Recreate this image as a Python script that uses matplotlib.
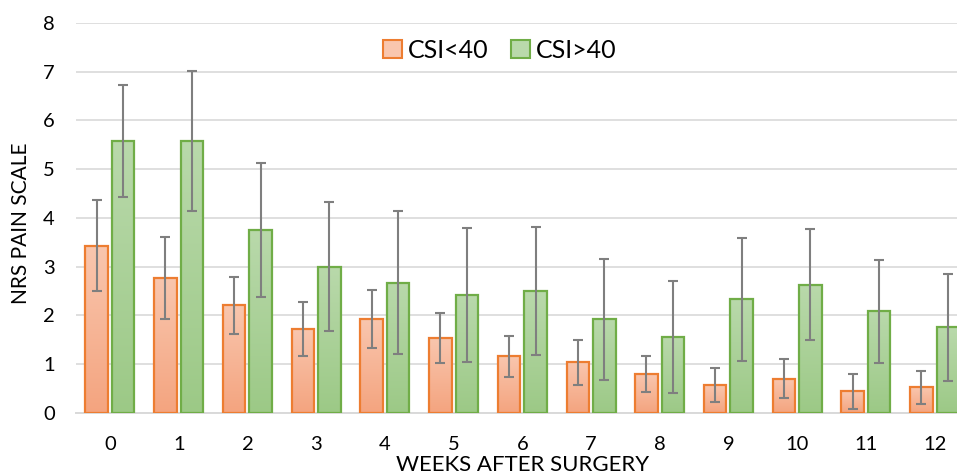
import matplotlib

matplotlib.use("Agg")
import matplotlib.pyplot as plt
import numpy as np
from matplotlib.colors import LinearSegmentedColormap
from matplotlib.patches import Patch

WEEKS = ["0", "1", "2", "3", "4", "5", "6", "7", "8", "9", "10", "11", "12"]
LOW_MEAN = [3.43, 2.76, 2.20, 1.72, 1.92, 1.53, 1.16, 1.03, 0.79, 0.56, 0.70, 0.44, 0.52]
LOW_SD = [0.93, 0.84, 0.58, 0.55, 0.60, 0.52, 0.42, 0.47, 0.37, 0.35, 0.40, 0.36, 0.34]
HIGH_MEAN = [5.58, 5.58, 3.75, 3.00, 2.67, 2.41, 2.50, 1.92, 1.55, 2.33, 2.63, 2.08, 1.75]
HIGH_SD = [1.15, 1.44, 1.37, 1.32, 1.46, 1.38, 1.31, 1.24, 1.15, 1.26, 1.14, 1.06, 1.10]
SERIES_LABELS = ["CSI<40", "CSI>40"]

ORANGE_EDGE = "#ED7D31"
ORANGE_TOP = "#F9C6AE"
ORANGE_BOTTOM = "#F4A47F"
GREEN_EDGE = "#70AD47"
GREEN_TOP = "#B9D9AB"
GREEN_BOTTOM = "#9CC986"
ERR_COLOR = "#7F7F7F"
GRID_COLOR = "#D9D9D9"
TEXT_COLOR = "#000000"

plt.rcParams["font.family"] = ["Lato", "DejaVu Sans"]


def gradient_bars(ax, bars, top, bottom):
    cmap = LinearSegmentedColormap.from_list("g", [bottom, top])
    grad = np.linspace(0, 1, 256).reshape(-1, 1)
    for bar in bars:
        x, y = bar.get_xy()
        w, h = bar.get_width(), bar.get_height()
        img = ax.imshow(grad, cmap=cmap, aspect="auto", origin="lower",
                        extent=(x, x + w, y, y + h), zorder=2)
        img.set_clip_path(bar)
        bar.set_facecolor("none")


fig = plt.figure(figsize=(9.57, 4.76), dpi=100)
ax = fig.add_axes([0.079, 0.133, 0.9335, 0.819])

pos = np.arange(len(WEEKS))
width = 0.327
offset = 0.193

low = ax.bar(pos - offset, LOW_MEAN, width, edgecolor=ORANGE_EDGE, linewidth=1.6, zorder=3)
high = ax.bar(pos + offset, HIGH_MEAN, width, edgecolor=GREEN_EDGE, linewidth=1.6, zorder=3)
gradient_bars(ax, low, ORANGE_TOP, ORANGE_BOTTOM)
gradient_bars(ax, high, GREEN_TOP, GREEN_BOTTOM)

ax.errorbar(pos - offset, LOW_MEAN, yerr=LOW_SD, fmt="none", ecolor=ERR_COLOR,
            elinewidth=1.5, capsize=3.8, capthick=1.5, zorder=4)
ax.errorbar(pos + offset, HIGH_MEAN, yerr=HIGH_SD, fmt="none", ecolor=ERR_COLOR,
            elinewidth=1.5, capsize=3.8, capthick=1.5, zorder=4)

ax.set_xlim(-0.5, len(WEEKS) - 0.5)
ax.set_ylim(0, 8)
ax.set_yticks(range(0, 9))
ax.set_xticks(pos)
ax.set_xticklabels(WEEKS)
ax.tick_params(axis="both", length=0, labelsize=14.5, colors=TEXT_COLOR)
ax.tick_params(axis="x", pad=17)
ax.tick_params(axis="y", pad=15)
ax.grid(axis="y", color=GRID_COLOR, linewidth=1.2, zorder=0)
ax.set_axisbelow(True)
for side in ["left", "right", "top"]:
    ax.spines[side].set_visible(False)
ax.spines["bottom"].set_color(GRID_COLOR)
ax.spines["bottom"].set_linewidth(1.4)

handles = [
    Patch(facecolor=ORANGE_TOP, edgecolor=ORANGE_EDGE, linewidth=1.5, label=SERIES_LABELS[0]),
    Patch(facecolor=GREEN_TOP, edgecolor=GREEN_EDGE, linewidth=1.5, label=SERIES_LABELS[1]),
]
ax.legend(handles=handles, loc="center", bbox_to_anchor=(0.475, 0.93), ncol=2,
          frameon=False, fontsize=18, handlelength=0.75, handleheight=0.75,
          handletextpad=0.25, columnspacing=0.9, borderaxespad=0)

ax.text(0.5, -0.135, "WEEKS AFTER SURGERY", transform=ax.transAxes,
        ha="center", va="center", fontsize=16)
fig.text(21 / 957, 1 - 223 / 476, "NRS PAIN SCALE", ha="center", va="center",
         rotation=90, fontsize=15)

fig.savefig("out.png", dpi=100)
